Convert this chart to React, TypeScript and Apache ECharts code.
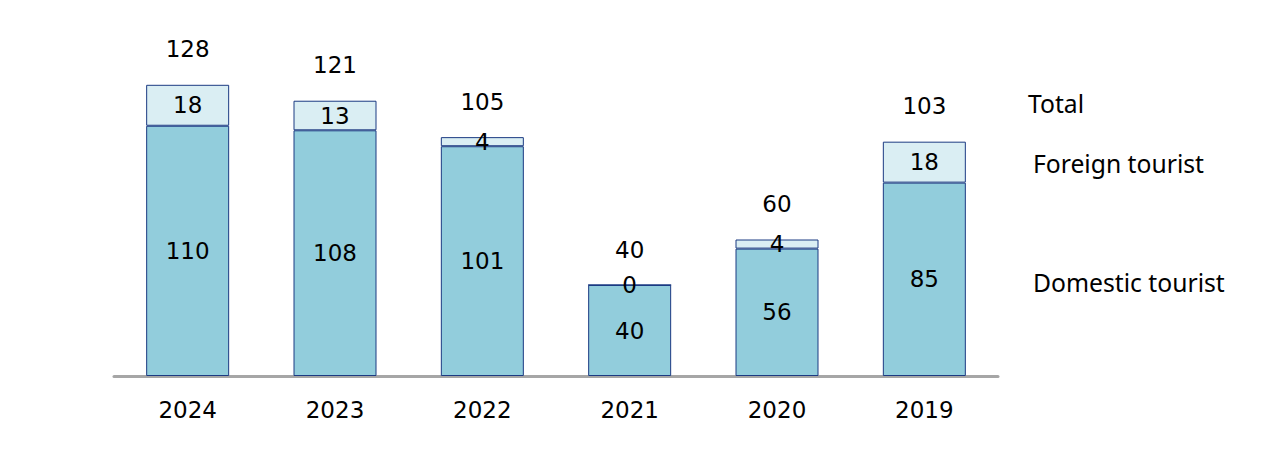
import React, { useEffect, useRef } from "react";
import * as echarts from "echarts";

const categories = ["2024", "2023", "2022", "2021", "2020", "2019"];
const domestic = [110, 108, 101, 40, 56, 85];
const foreign = [18, 13, 4, 0, 4, 18];
const totals = [128, 121, 105, 40, 60, 103];
const legendLabels = ["Total", "Foreign tourist", "Domestic tourist"];

const NUM_FONT = "Verdana, 'DejaVu Sans', sans-serif";
const TXT_FONT = "'Noto Sans', 'Open Sans', sans-serif";

export default function App() {
  const ref = useRef<HTMLDivElement>(null);
  useEffect(() => {
    document.body.style.margin = "0";
    if (!ref.current) return;
    const chart = echarts.init(ref.current, undefined, { renderer: "svg" });
    chart.setOption({
      animation: false,
      backgroundColor: "#ffffff",
      grid: { left: 114, right: 273, top: 12, bottom: 79 },
      xAxis: {
        type: "category",
        data: categories,
        axisLine: { show: true, lineStyle: { color: "#A6A6A6", width: 3 } },
        axisTick: { show: false },
        axisLabel: { color: "#000", fontSize: 23, fontFamily: NUM_FONT, margin: 22 },
      },
      yAxis: {
        type: "value",
        min: 0,
        max: 160,
        show: false,
        splitLine: { show: false },
      },
      series: [
        {
          name: "Domestic tourist",
          type: "bar",
          stack: "t",
          data: domestic,
          barWidth: 83,
          itemStyle: { color: "#92CDDC", borderColor: "#1B3A82", borderWidth: 1 },
          label: { show: true, position: "inside", color: "#000", fontSize: 23, fontFamily: NUM_FONT },
        },
        {
          name: "Foreign tourist",
          type: "bar",
          stack: "t",
          data: foreign,
          barWidth: 83,
          itemStyle: { color: "#DAEEF3", borderColor: "#1B3A82", borderWidth: 1 },
          label: { show: true, position: "inside", color: "#000", fontSize: 23, fontFamily: NUM_FONT },
        },
        {
          name: "Total",
          type: "scatter",
          data: totals,
          symbolSize: 0,
          silent: true,
          itemStyle: { opacity: 1 },
          label: {
            show: true,
            position: "top",
            distance: 24,
            color: "#000",
            opacity: 1,
            fontSize: 23,
            fontFamily: NUM_FONT,
          },
        },
      ],
      graphic: [
        { type: "text", left: 1028, top: 91, style: { text: legendLabels[0], fontSize: 24.7, fontFamily: TXT_FONT, fill: "#000" } },
        { type: "text", left: 1033, top: 151, style: { text: legendLabels[1], fontSize: 24.7, fontFamily: TXT_FONT, fill: "#000" } },
        { type: "text", left: 1033, top: 270, style: { text: legendLabels[2], fontSize: 24.7, fontFamily: TXT_FONT, fill: "#000" } },
      ],
    });
    return () => chart.dispose();
  }, []);
  return <div ref={ref} style={{ width: 1271, height: 455 }} />;
}
